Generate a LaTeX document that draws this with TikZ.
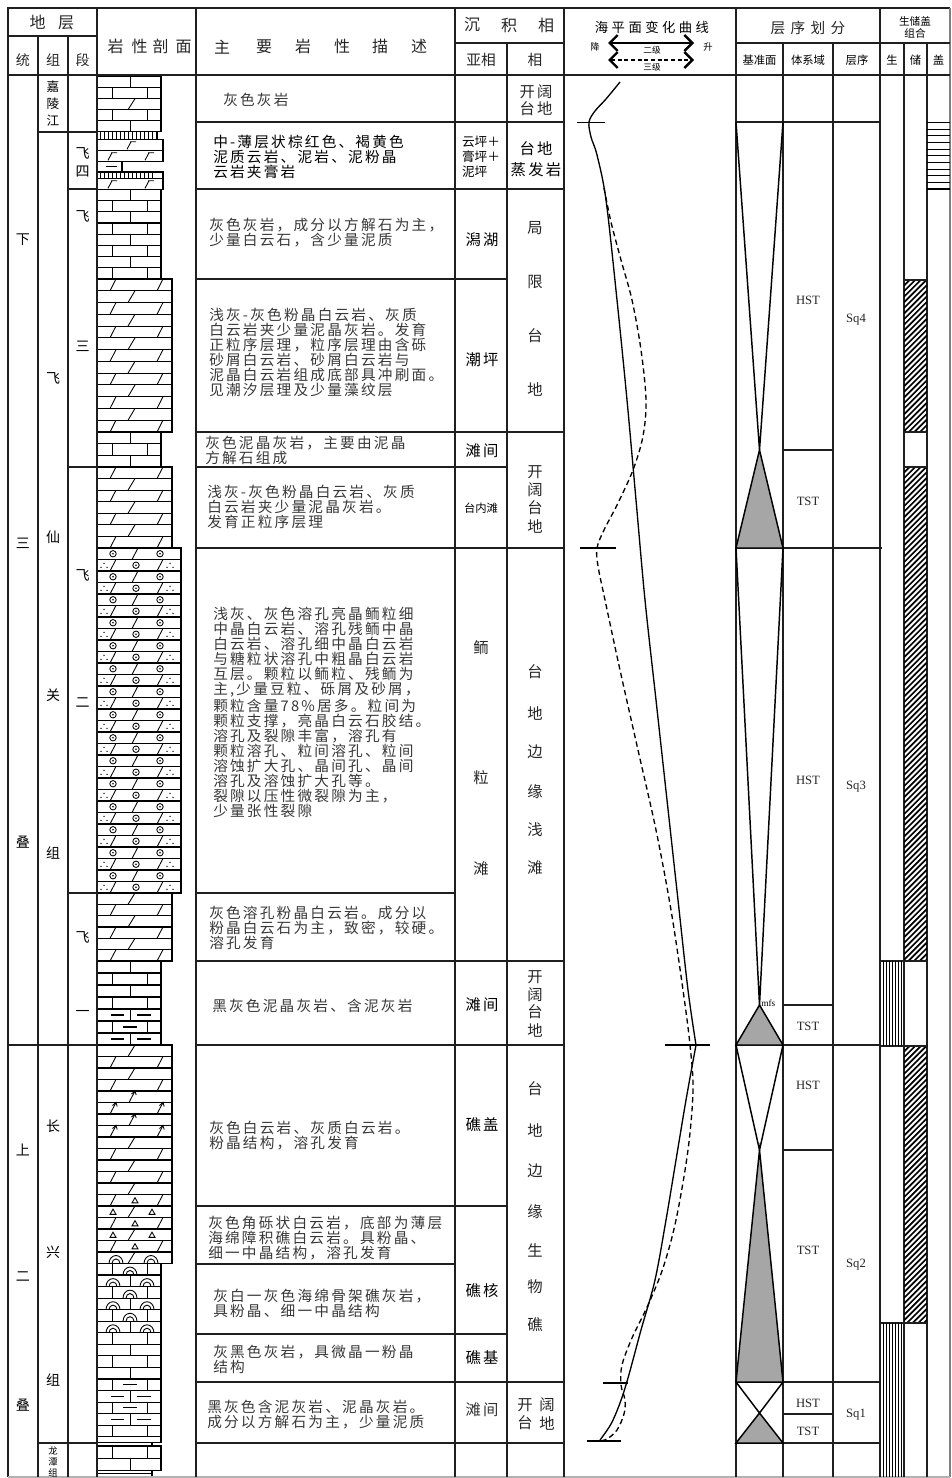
\documentclass[tikz,border=0pt]{standalone}
\usepackage{fontspec}
\setmainfont{Liberation Serif}
\newfontfamily\cjk{Noto Sans CJK SC}
\newfontfamily\cjkd[LetterSpace=15]{Noto Sans CJK SC}
\newfontfamily\cjkw[LetterSpace=26]{Noto Sans CJK SC}
\usetikzlibrary{arrows.meta}

\tikzset{
 grid/.style={line width=1.3pt, draw=black!88},
 lith/.style={line width=0.85pt},
 pat/.style={line width=0.65pt},
 desc/.style={anchor=west, align=left, inner sep=0pt, text=black!78, font=\cjkd\fontsize{11}{11.25}\selectfont},
 descb/.style={desc, text=black},
 sub/.style={inner sep=0pt, font=\cjkd\fontsize{11.5}{13}\selectfont},
 fac/.style={inner sep=0pt, font=\cjk\fontsize{11.5}{13}\selectfont, text=black!85},
 strat/.style={inner sep=0pt, font=\cjk\fontsize{10.5}{12}\selectfont},
 hd/.style={inner sep=0pt, font=\cjk\fontsize{12}{13}\selectfont, text=black!85},
 sys/.style={inner sep=0pt, font=\fontsize{9.5}{11}\selectfont, text=black!85},
 tri/.style={line width=1.1pt},
 trifill/.style={tri, fill=black!35},
 curve/.style={line width=1pt},
 dcurve/.style={line width=1pt, dash pattern=on 4pt off 2.6pt},
 barb/.style={line width=1.8pt, {Straight Barb[length=6pt,width=12pt]}-{Straight Barb[length=6pt,width=12pt]}}
}

% lithology helpers
\newcommand\patLA[2]{\draw[pat] (130,#1) -- (130,#2);}
\newcommand\patLB[2]{\draw[pat] (112,#1) -- (112,#2) (147,#1) -- (147,#2);}
\newcommand\patDA[2]{\draw[pat] (128,#2) -- (135,#1);}
\newcommand\patDB[2]{\draw[pat] (110,#2) -- (116,#1) (157,#2) -- (163,#1);}
\newcommand\ooid[2]{\draw[pat] (#1,#2) circle[radius=3.2]; \fill (#1,#2) circle[radius=0.9];}
\newcommand\dotgrp[2]{\fill ({#1-3},{#2+2}) circle[radius=0.75] (#1,{#2-2}) circle[radius=0.75] ({#1+3},{#2+2}) circle[radius=0.75];}
\newcommand\patOA[2]{\pgfmathsetmacro\ym{(#1+#2)/2}\ooid{113}{\ym}\ooid{160}{\ym}\draw[pat] (132,#2) -- (138,#1);}
\newcommand\patOB[2]{\pgfmathsetmacro\ym{(#1+#2)/2}\dotgrp{104}{\ym}\dotgrp{170}{\ym}\ooid{136}{\ym}\draw[pat] (110,#2) -- (116,#1) (157,#2) -- (163,#1);}
\newcommand\patLAm[2]{\patLA{#1}{#2}\pgfmathsetmacro\ym{(#1+#2)/2}\draw[line width=0.9pt] (111,\ym) -- (124,\ym) (137,\ym) -- (151,\ym);}
\newcommand\patLBm[2]{\patLB{#1}{#2}\pgfmathsetmacro\ym{(#1+#2)/2}\draw[line width=0.9pt] (123,\ym) -- (137,\ym);}
\newcommand\hookmk[3]{\draw[pat] ({#1-6},#3) -- (#1,#2) -- ({#1+1.2},{#2+4}); \draw[pat] ({#1-3.5},{#2+3}) -- (#1,#2);}
\newcommand\patDAh[2]{\hookmk{135}{#1}{#2}}
\newcommand\patDBh[2]{\hookmk{116}{#1}{#2}\hookmk{163}{#1}{#2}}
\newcommand\tritri[2]{\draw[pat] ({#1-3},{#2+2.6}) -- (#1,{#2-2.6}) -- ({#1+3},{#2+2.6}) -- cycle;}
\newcommand\patDBt[2]{\patDB{#1}{#2}\pgfmathsetmacro\ym{(#1+#2)/2}\tritri{135}{\ym}}
\newcommand\patDAt[2]{\patDA{#1}{#2}\pgfmathsetmacro\ym{(#1+#2)/2}\tritri{113}{\ym}\tritri{152}{\ym}}
\newcommand\reefarc[2]{\draw[pat] ({#1-7},#2) arc[start angle=180,end angle=360,x radius=7,y radius=8]; \draw[pat] ({#1-4},#2) arc[start angle=180,end angle=360,x radius=4,y radius=4.6];}
\newcommand\patDAa[2]{\patDA{#1}{#2}\reefarc{116}{#2}\reefarc{151}{#2}}
\newcommand\patLAa[2]{\patLA{#1}{#2}\reefarc{113}{#2}\reefarc{147}{#2}}
\newcommand\patLBa[2]{\patLB{#1}{#2}\reefarc{130}{#2}}
\newcommand\patG[2]{\foreach \xx in {100.5,104.5,...,154.5} \draw[pat] (\xx,#1) -- (\xx,#2);}
\newcommand\ffmk[3]{\draw[pat] ({#1-4},{#3-1}) -- (#1,{#2+2.5}) ({#1-1},{#2+2.5}) -- ({#1+5},{#2+2.5});}
\newcommand\patFA[2]{\ffmk{131}{#1}{#2}}
\newcommand\patFB[2]{\ffmk{112}{#1}{#2}\ffmk{149}{#1}{#2}}
\newcommand\patM[2]{\pgfmathsetmacro\ym{(#1+#2)/2}\draw[line width=0.9pt] (106,\ym) -- (117,\ym);}
\newcommand\patN[2]{}
\newcommand\lithseg[4]{%
 \foreach \tp [count=\i from 0] in {#4} {%
  \pgfmathsetmacro\ya{#1+\i*#2}%
  \pgfmathsetmacro\yb{#1+(\i+1)*#2}%
  \draw[lith] (97,\ya) rectangle (#3,\yb);%
  \csname pat\tp\endcsname{\ya}{\yb}%
 }}
\newcommand\resbox[2]{%
 \begin{scope}
 \clip (904,#1) rectangle (927,#2);
 \pgfmathtruncatemacro\hn{((#2)-(#1)+23)/5.6}
 \foreach \k in {0,...,\hn} \draw[line width=1.25pt] (904,{#1+\k*5.6}) -- ++(23,-23);
 \end{scope}
 \draw[grid] (904,#1) -- (927,#1) (904,#2) -- (927,#2);}

\begin{document}
\begin{tikzpicture}[x=0.75pt,y=-0.75pt]
\useasboundingbox (0,0) rectangle (951,1478);

% ---------- lithology column ----------
\lithseg{76.7}{11}{161}{LA,LB,DA,LB,LA}
\lithseg{131.7}{7.6}{157}{G}
\lithseg{139.3}{11}{163}{FA,FB}
\lithseg{161.3}{10.7}{122}{M}
\lithseg{172}{6.3}{163}{G}
\lithseg{178.3}{11}{163}{FB}
\lithseg{189.3}{11.2125}{161}{LA,LB,LA,LB,LA,LB,LA,LB}
\lithseg{279}{11.7692}{172}{DB,DA,DB,DA,DB,DA,DB,DA,DB,DA,DB,DA,DB}
\lithseg{432}{11.6667}{161}{LA,LB,LA}
\lithseg{467}{11.5714}{172}{DB,DA,DB,DA,DB,DA,DB}
\lithseg{548}{11.5}{181}{OA,OB,OA,OB,OA,OB,OA,OB,OA,OB,OA,OB,OA,OB,OA,OB,OA,OB,OA,OB,OA,OB,OA,OB,OA,OB,OA,OB,OA,OB}
\lithseg{893}{11.3333}{172}{DA,DB,DA,DB,DA,DB}
\lithseg{961}{12}{161}{LA,LB,LA,LB,LAm,LBm,LAm}
\lithseg{1045}{11.5}{172}{DA,DB,DA,DB,DAh,DBh,DAh,DBh,DA,DB,DA,DB,DA,DBt,DAt,DBt,DAt,DBt,DAa}
\lithseg{1263.5}{11.55}{161}{LBa,LAa,LBa,LAa,LBa,LAa,LB,LA,LB,LA,LBm,LAm,LBm,LAm,LB}
\lithseg{1436.75}{5.95}{161}{N}
\lithseg{1442.7}{3.3}{152}{N}
\lithseg{1446}{12.2}{161}{LB,LA}
\lithseg{1470.4}{3.3}{152}{N,N}

% ---------- frame & grid ----------
\draw[grid] (8,1477) -- (8,8) -- (950,8);
\draw[line width=1pt, black!50] (950,8) -- (950,1477);
\draw[line width=0.8pt, black!30] (8,1477) -- (950,1477);
\draw[grid] (8,75) -- (950,75);
\draw[grid] (8,36) -- (97,36);
\draw[grid] (455,43) -- (564,43) (736,43) -- (950,43);
\foreach \x in {97,196,455,564,736,880} \draw[grid] (\x,8) -- (\x,1477);
\foreach \x in {38,68} \draw[grid] (\x,36) -- (\x,1477);
\foreach \x in {507,783,833,904,927} \draw[grid] (\x,43) -- (\x,1477);
\foreach \y in {122,189,432,548,961,1045,1382,1443} \draw[grid] (196,\y) -- (564,\y);
\foreach \y in {279,467,1206,1334} \draw[grid] (196,\y) -- (507,\y);
\foreach \y in {893,1264} \draw[grid] (196,\y) -- (455,\y);
\draw[grid] (8,1045) -- (97,1045);
\foreach \y in {132,1443} \draw[grid] (38,\y) -- (97,\y);
\foreach \y in {189,467,893} \draw[grid] (68,\y) -- (97,\y);
\foreach \y in {122,1045,1382,1443} \draw[grid] (736,\y) -- (880,\y);
\draw[grid] (736,548) -- (882,548);
\foreach \y in {450,1005,1150,1414} \draw[grid] (783,\y) -- (833,\y);

% ---------- base-level triangles ----------
\draw[tri] (736,122) -- (759.5,450) -- (783,122);
\filldraw[trifill] (759.5,450) -- (736,548) -- (783,548) -- cycle;
\draw[tri] (736,548) -- (759.5,1005) -- (783,548);
\filldraw[trifill] (759.5,1005) -- (736,1045) -- (783,1045) -- cycle;
\draw[tri] (736,1045) -- (759.5,1150) -- (783,1045);
\filldraw[trifill] (759.5,1150) -- (736,1382) -- (783,1382) -- cycle;
\draw[tri] (736,1382) -- (759.5,1413) -- (783,1382);
\filldraw[trifill] (759.5,1413) -- (736,1443) -- (783,1443) -- cycle;
\node[anchor=west, inner sep=0pt, font=\fontsize{7}{8}\selectfont] (mfs) at (761,1003) {mfs};

% ---------- source / reservoir / seal ----------
\foreach \k in {0,...,10} \draw[line width=0.8pt] (927,{122.7+\k*6.63}) -- (950,{122.7+\k*6.63});
\resbox{280}{432}
\resbox{467}{961}
\resbox{1046}{1323}
\foreach \y in {961,1046,1323} \draw[grid] (880,\y) -- (927,\y);
\foreach \xx in {883,886,...,901} \draw[line width=0.45pt] (\xx,961) -- (\xx,1046) (\xx,1323) -- (\xx,1477);

% ---------- sea-level curves ----------
\draw[curve] plot[smooth, tension=0.55] coordinates {(620,82) (606,99) (595,111) (589,122) (591,137) (597,155) (606,200) (617,300) (627,400) (636,500) (645,600) (656,700) (667,800) (678,900) (688,990) (696,1045)};
\draw[curve] plot[smooth, tension=0.55] coordinates {(696,1045) (686,1100) (676,1160) (666,1220) (655,1280) (641,1330) (628,1378) (620,1403) (611,1424) (600,1440)};
\draw[dcurve] plot[smooth, tension=0.55] coordinates {(604,188) (611,222) (621,260) (632,300) (641,350) (646,400) (643,436) (633,470) (617,505) (604,530) (597,548) (598,566) (605,600) (620,670) (638,750) (656,830) (671,910) (683,990) (690,1045) (693,1090) (688,1150) (676,1220) (663,1268) (648,1305) (632,1338) (622,1365) (621,1385) (625,1400) (624,1414) (617,1430) (607,1439) (599,1441)};
\draw[line width=1pt] (577,122.7) -- (605,122.7);
\draw[line width=1pt] (580,548) -- (616,548);
\draw[line width=1pt] (665,1045) -- (710,1045);
\draw[line width=1pt] (603,1383) -- (628,1383);
\draw[line width=1pt] (587,1441) -- (621,1441);

% ---------- header texts ----------
\node[hd] (hdA) at (37.5,22.5) {地};
\node[hd] (hdB) at (66,22.5) {层};
\foreach \xx/\cc [count=\n] in {23/统,53/组,82.5/段} \node[hd, font=\cjk\fontsize{10.5}{12}\selectfont] (hc\n) at (\xx,60) {\cc};
\foreach \xx/\cc [count=\n] in {115.5/岩,139.7/性,160.7/剖,183.7/面} \node[hd] (hy\n) at (\xx,46.7) {\cc};
\foreach \xx/\cc [count=\n] in {222/主,264/要,303/岩,342/性,380/描,419/述} \node[hd] (hz\n) at (\xx,46.7) {\cc};
\foreach \xx/\cc [count=\n] in {472/沉,509/积,546/相} \node[hd] (hf\n) at (\xx,25) {\cc};
\node[hd, font=\cjk\fontsize{11}{12}\selectfont] (hya) at (481,60) {亚相};
\node[hd, font=\cjk\fontsize{11}{12}\selectfont] (hxa) at (535,60) {相};
\node[inner sep=0pt, font=\cjkw\fontsize{10}{11}\selectfont] (hsl) at (652,27) {海平面变化曲线};
\coordinate (la1) at (608,43); \coordinate (la2) at (694,43);
\coordinate (lb1) at (608,60); \coordinate (lb2) at (694,60);
\draw[barb] (la1) -- (la2);
\draw[barb, dash pattern=on 3pt off 2pt] (lb1) -- (lb2);
\node[inner sep=0pt, font=\cjk\fontsize{7}{8}\selectfont] (ljiang) at (595,47) {降};
\node[inner sep=0pt, font=\cjk\fontsize{7}{8}\selectfont] (lsheng) at (708,47) {升};
\node[inner sep=0pt, font=\cjk\fontsize{6.5}{7}\selectfont] (lerji) at (652,50.5) {二级};
\node[inner sep=0pt, font=\cjk\fontsize{6.5}{7}\selectfont] (lsanji) at (652,67) {三级};
\foreach \xx/\cc [count=\n] in {778/层,798/序,818/划,838/分} \node[hd, font=\cjk\fontsize{11}{12}\selectfont] (hq\n) at (\xx,28) {\cc};
\node[inner sep=0pt, font=\cjk\fontsize{8.5}{10}\selectfont] (hjz) at (759.5,60.5) {基准面};
\node[inner sep=0pt, font=\cjk\fontsize{8.5}{10}\selectfont] (htx) at (808,60.5) {体系域};
\node[inner sep=0pt, font=\cjk\fontsize{8.5}{10}\selectfont] (hcx) at (857,60.5) {层序};
\node[inner sep=0pt, align=center, font=\cjk\fontsize{8}{8.5}\selectfont] (hsc) at (915,27.5) {生储盖\\组合};
\foreach \xx/\cc [count=\n] in {892/生,915.5/储,938.5/盖} \node[inner sep=0pt, font=\cjk\fontsize{8.5}{10}\selectfont] (hs\n) at (\xx,60) {\cc};

% ---------- stratigraphy texts ----------
\foreach \yy/\cc [count=\n] in {240/下,543/三,842/叠,1150/上,1277/二,1405/叠} \node[strat] (st\n) at (23,\yy) {\cc};
\foreach \yy/\cc [count=\n] in {87/嘉,104/陵,121/江} \node[strat, font=\cjk\fontsize{9.5}{11}\selectfont] (zj\n) at (53,\yy) {\cc};
\foreach \yy/\cc [count=\n] in {378/飞,537/仙,695/关,853/组,1126/长,1252/兴,1380/组} \node[strat] (zu\n) at (53,\yy) {\cc};
\foreach \yy/\cc [count=\n] in {1451/龙,1462/潭,1473/组} \node[strat, font=\cjk\fontsize{7}{8}\selectfont] (zl\n) at (53,\yy) {\cc};
\foreach \yy/\cc [count=\n] in {153/飞,172/四,216.7/飞,346/三,575/飞,703/二,937/飞,1013/一} \node[strat] (dn\n) at (82.5,\yy) {\cc};

% ---------- description texts ----------
\node[desc] (d1) at (223,100) {灰色灰岩};
\node[descb] (d2) at (213,156.5) {中-薄层状棕红色、褐黄色\\泥质云岩、泥岩、泥粉晶\\云岩夹膏岩};
\node[desc] (d3) at (209,233) {灰色灰岩，成分以方解石为主，\\少量白云石，含少量泥质};
\node[desc] (d4) at (209,352.5) {浅灰-灰色粉晶白云岩、灰质\\白云岩夹少量泥晶灰岩。发育\\正粒序层理，粒序层理由含砾\\砂屑白云岩、砂屑白云岩与\\泥晶白云岩组成底部具冲刷面。\\见潮汐层理及少量藻纹层};
\node[desc] (d5) at (205,450.5) {灰色泥晶灰岩，主要由泥晶\\方解石组成};
\node[desc] (d6) at (207,507) {浅灰-灰色粉晶白云岩、灰质\\白云岩夹少量泥晶灰岩。\\发育正粒序层理};
\node[desc] (d7) at (213,712.6) {浅灰、灰色溶孔亮晶鲕粒细\\中晶白云岩、溶孔残鲕中晶\\白云岩、溶孔细中晶白云岩\\与糖粒状溶孔中粗晶白云岩\\互层。颗粒以鲕粒、残鲕为\\主,少量豆粒、砾屑及砂屑，\\颗粒含量78\%居多。粒间为\\颗粒支撑，亮晶白云石胶结。\\溶孔及裂隙丰富，溶孔有\\颗粒溶孔、粒间溶孔、粒间\\溶蚀扩大孔、晶间孔、晶间\\溶孔及溶蚀扩大孔等。\\裂隙以压性微裂隙为主，\\少量张性裂隙};
\node[desc] (d8) at (209,927.5) {灰色溶孔粉晶白云岩。成分以\\粉晶白云石为主，致密，较硬。\\溶孔发育};
\node[desc] (d9) at (212,1006) {黑灰色泥晶灰岩、含泥灰岩};
\node[desc] (d10) at (209,1135.5) {灰色白云岩、灰质白云岩。\\粉晶结构，溶孔发育};
\node[desc] (d11) at (208,1238) {灰色角砾状白云岩，底部为薄层\\海绵障积礁白云岩。具粉晶、\\细一中晶结构，溶孔发育};
\node[desc] (d12) at (213,1303) {灰白一灰色海绵骨架礁灰岩，\\具粉晶、细一中晶结构};
\node[desc] (d13) at (213,1359.5) {灰黑色灰岩，具微晶一粉晶\\结构};
\node[desc] (d14) at (207,1415) {黑灰色含泥灰岩、泥晶灰岩。\\成分以方解石为主，少量泥质};

% ---------- subfacies ----------
\node[inner sep=0pt, align=left, font=\cjk\fontsize{9.5}{11.25}\selectfont] (y1) at (481,156.5) {云坪＋\\膏坪＋\\泥坪};
\node[sub] (y2) at (482,240) {潟湖};
\node[sub] (y3) at (482,360) {潮坪};
\node[sub] (y4) at (482,451) {滩间};
\node[inner sep=0pt, font=\cjk\fontsize{8.5}{10}\selectfont] (y5) at (481,508) {台内滩};
\foreach \yy/\cc [count=\n] in {648/鲕,778/粒,869/滩} \node[fac] (yo\n) at (481,\yy) {\cc};
\node[sub] (y6) at (482,1005) {滩间};
\node[sub] (y7) at (482,1125) {礁盖};
\node[sub] (y8) at (482,1291) {礁核};
\node[sub] (y9) at (482,1358) {礁基};
\node[sub, text=black!80] (y10) at (482,1410) {滩间};

% ---------- facies ----------
\node[sub, text=black!85] (f1) at (536,92) {开阔};
\node[sub, text=black!85] (f2) at (536,109) {台地};
\node[sub] (f3) at (536,149) {台地};
\node[sub] (f4) at (536,170) {蒸发岩};
\foreach \yy/\cc [count=\n] in {228/局,282/限,336/台,389/地} \node[fac] (fj\n) at (535,\yy) {\cc};
\foreach \yy/\cc [count=\n] in {472/开,490/阔,508/台,526/地} \node[fac] (fk\n) at (535,\yy) {\cc};
\foreach \yy/\cc [count=\n] in {672/台,713/地,752/边,792/缘,830/浅,868/滩} \node[fac] (fq\n) at (535,\yy) {\cc};
\foreach \yy/\cc [count=\n] in {977/开,995/阔,1012/台,1030/地} \node[fac] (fm\n) at (535,\yy) {\cc};
\foreach \yy/\cc [count=\n] in {1089/台,1130/地,1171/边,1212/缘,1250/生,1287/物,1325/礁} \node[fac] (fr\n) at (535,\yy) {\cc};
\node[fac] (fb1) at (525,1405) {开}; \node[fac] (fb2) at (547,1405) {阔};
\node[fac] (fb3) at (525,1423) {台}; \node[fac] (fb4) at (547,1423) {地};

% ---------- systems tracts & sequences ----------
\foreach \yy/\tt [count=\n] in {300/HST,501/TST,780/HST,1026/TST,1085/HST,1250/TST,1403/HST,1431/TST} \node[sys] (tr\n) at (808,\yy) {\tt};
\foreach \yy/\tt [count=\n] in {320/Sq4,787/Sq3,1265/Sq2,1415/Sq1} \node[sys] (sq\n) at (856,\yy) {\tt};

\end{tikzpicture}
\end{document}
